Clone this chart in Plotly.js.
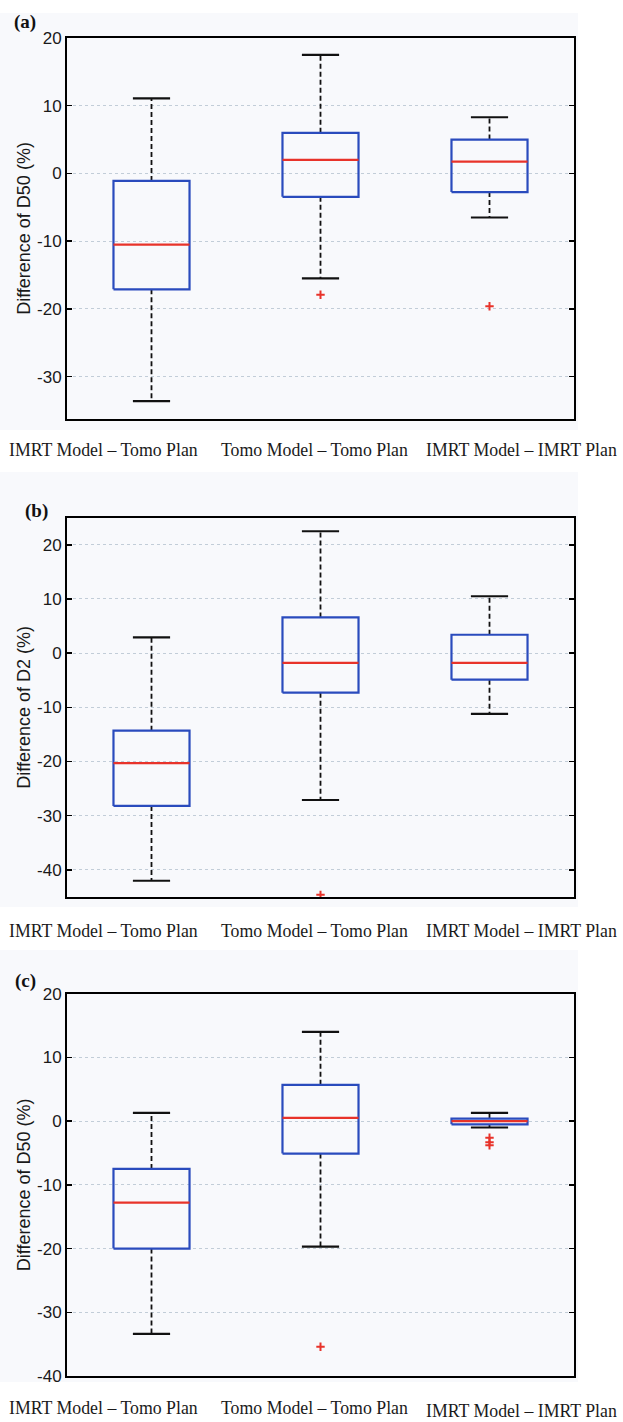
<!DOCTYPE html>
<html>
<head>
<meta charset="utf-8">
<script src="https://cdn.plot.ly/plotly-3.0.1.min.js"></script>
<style>html,body{margin:0;padding:0;background:#fff;}#chart{width:623px;height:1422px;}</style>
</head>
<body>
<div id="chart"></div>
<script>
// ---- data ----
var categories = ['IMRT Model \u2013 Tomo Plan', 'Tomo Model \u2013 Tomo Plan', 'IMRT Model \u2013 IMRT Plan'];
var panelLabels = ['(a)', '(b)', '(c)'];
var yTitles = ['Difference of D50 (%)', 'Difference of D2 (%)', 'Difference of D50 (%)'];

// Panel (a)
var a_upper  = [11.1, 17.5, 8.3];
var a_q3     = [-1.1, 6.0, 5.0];
var a_median = [-10.5, 2.0, 1.75];
var a_q1     = [-17.1, -3.45, -2.75];
var a_lower  = [-33.6, -15.5, -6.5];
var a_outCat = [1, 2];
var a_outVal = [-17.9, -19.6];
var a_tickVals = [-30, -20, -10, 0, 10, 20];
var a_tickText = ['-30', '-20', '-10', '0', '10', '20'];

// Panel (b)
var b_upper  = [2.9, 22.5, 10.5];
var b_q3     = [-14.3, 6.6, 3.4];
var b_median = [-20.3, -1.8, -1.8];
var b_q1     = [-28.2, -7.3, -4.9];
var b_lower  = [-42.0, -27.1, -11.2];
var b_outCat = [1];
var b_outVal = [-44.6];
var b_tickVals = [-40, -30, -20, -10, 0, 10, 20];
var b_tickText = ['-40', '-30', '-20', '-10', '0', '10', '20'];

// Panel (c)
var c_upper  = [1.3, 14.0, 1.3];
var c_q3     = [-7.5, 5.7, 0.4];
var c_median = [-12.8, 0.5, 0.0];
var c_q1     = [-20.0, -5.1, -0.5];
var c_lower  = [-33.4, -19.7, -1.0];
var c_outCat = [1, 2, 2, 2];
var c_outVal = [-35.4, -2.6, -3.3, -3.8];
var c_tickVals = [-40, -30, -20, -10, 0, 10, 20];
var c_tickText = ['-40', '-30', '-20', '-10', '0', '10', '20'];

// ---- styles / geometry ----
var BOX_HALF = 0.225, CAP_HALF = 0.11;
var BLUE = '#2a4bbd', RED = '#e8332a';

var panels = [
  {u:a_upper, q3:a_q3, m:a_median, q1:a_q1, l:a_lower, oc:a_outCat, ov:a_outVal, tv:a_tickVals, tt:a_tickText, range:[-36.25, 20], dom:[0.70534, 0.97328]},
  {u:b_upper, q3:b_q3, m:b_median, q1:b_q1, l:b_lower, oc:b_outCat, ov:b_outVal, tv:b_tickVals, tt:b_tickText, range:[-45, 25], dom:[0.36920, 0.63594]},
  {u:c_upper, q3:c_q3, m:c_median, q1:c_q1, l:c_lower, oc:c_outCat, ov:c_outVal, tv:c_tickVals, tt:c_tickText, range:[-40, 20], dom:[0.03235, 0.30120]}
];

var traces = [];
var layout = {
  width: 623, height: 1422,
  margin: {l: 67, r: 49, t: 0, b: 0},
  paper_bgcolor: '#ffffff',
  plot_bgcolor: 'rgba(0,0,0,0)',
  showlegend: false,
  shapes: [], annotations: []
};

var labelY = [0.68354, 0.34550, 0.01000];
var catShift = [-48, -6, 32];
var panelPos = [[-0.0828, 0.98453], [-0.0611, 0.64065], [-0.0828, 0.31013]];
var tint = [[0.69761, 0.99086], [0.36217, 0.66807], [0.02813, 0.33193]];

panels.forEach(function(p, k) {
  var sfx = k === 0 ? '' : String(k + 1);
  var xa = 'x' + sfx, ya = 'y' + sfx;
  var wx = [], wy = [], cx = [], cy = [], bx = [], by = [], mx = [], my = [];
  for (var i = 0; i < categories.length; i++) {
    wx.push(i, i, null, i, i, null);
    wy.push(p.q3[i], p.u[i], null, p.q1[i], p.l[i], null);
    cx.push(i - CAP_HALF, i + CAP_HALF, null, i - CAP_HALF, i + CAP_HALF, null);
    cy.push(p.u[i], p.u[i], null, p.l[i], p.l[i], null);
    bx.push(i - BOX_HALF, i + BOX_HALF, i + BOX_HALF, i - BOX_HALF, i - BOX_HALF, null);
    by.push(p.q1[i], p.q1[i], p.q3[i], p.q3[i], p.q1[i], null);
    mx.push(i - BOX_HALF, i + BOX_HALF, null);
    my.push(p.m[i], p.m[i], null);
  }
  traces.push({type:'scatter', mode:'lines', x:wx, y:wy, xaxis:xa, yaxis:ya, hoverinfo:'skip',
    line:{color:'#111', width:1.8, dash:'5px,3px'}});
  traces.push({type:'scatter', mode:'lines', x:cx, y:cy, xaxis:xa, yaxis:ya, hoverinfo:'skip',
    line:{color:'#111', width:2.2}});
  traces.push({type:'scatter', mode:'lines', x:bx, y:by, xaxis:xa, yaxis:ya, hoverinfo:'skip',
    line:{color:BLUE, width:2.2}});
  traces.push({type:'scatter', mode:'lines', x:mx, y:my, xaxis:xa, yaxis:ya, hoverinfo:'skip',
    line:{color:RED, width:2.2}});
  traces.push({type:'scatter', mode:'markers', x:p.oc, y:p.ov, xaxis:xa, yaxis:ya, cliponaxis:false,
    marker:{symbol:'cross-thin-open', size:6, color:RED, line:{color:RED, width:2}}});

  layout['xaxis' + sfx] = {
    domain:[0, 1], anchor: ya, range:[-0.5, 2.5], showticklabels:false, ticks:'',
    showgrid:false, zeroline:false, showline:true, linecolor:'#000', linewidth:2, mirror:true, fixedrange:true
  };
  layout['yaxis' + sfx] = {
    domain: p.dom, anchor: xa, range: p.range, tickmode:'array', tickvals: p.tv, ticktext: p.tt,
    ticks:'inside', ticklen:5, tickwidth:1.5, tickcolor:'#000',
    showline:true, linecolor:'#000', linewidth:2, mirror:'ticks',
    showgrid:true, gridcolor:'#c2cdd8', gridwidth:1, griddash:'dot', zeroline:false,
    tickfont:{family:'Liberation Sans, Arial, sans-serif', size:17, color:'#1a1a1a'},
    automargin:false,
    title:{text: yTitles[k], font:{family:'Liberation Sans, Arial, sans-serif', size:18, color:'#1a1a1a'}, standoff:2}
  };

  layout.shapes.push({type:'rect', xref:'paper', yref:'paper', x0:-0.1321, x1:1.0079, y0:tint[k][0], y1:tint[k][1],
    fillcolor:'#f8f9fc', line:{width:0}, layer:'below'});

  for (var j = 0; j < categories.length; j++) {
    layout.annotations.push({text: categories[j], xref: xa, yref:'paper', x: j, y: labelY[k] + (k === 2 && j === 2 ? -0.002 : 0),
      xshift: catShift[j], showarrow:false, xanchor:'center', yanchor:'middle',
      font:{family:'Liberation Serif, Times New Roman, serif', size:17.8, color:'#1a1a1a'}});
  }
  layout.annotations.push({text: '<b>' + panelLabels[k] + '</b>', xref:'paper', yref:'paper',
    x: panelPos[k][0], y: panelPos[k][1], showarrow:false, xanchor:'center', yanchor:'middle',
    font:{family:'Liberation Serif, Times New Roman, serif', size:19, color:'#111'}});
});

Plotly.newPlot('chart', traces, layout, {displayModeBar:false, staticPlot:true});
</script>
</body>
</html>
